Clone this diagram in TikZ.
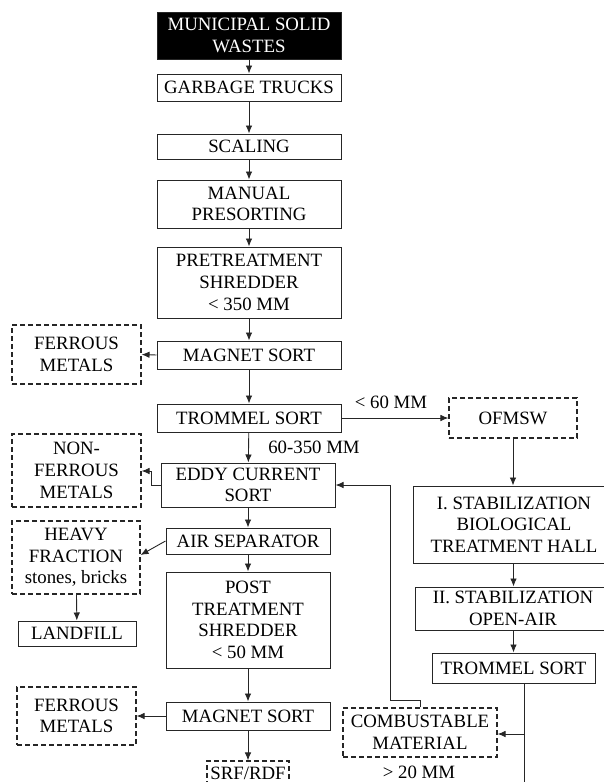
\documentclass[tikz,border=0pt]{standalone}
\usepackage{fontspec}
\setmainfont{Liberation Serif}
\usetikzlibrary{arrows.meta}
\tikzset{
  box/.style={draw=black!85, line width=1pt, inner sep=0pt, align=center,
    font=\fontsize{18.8}{21.7}\selectfont, text=black},
  dbox/.style={box, dash pattern=on 5pt off 3pt, line width=1.1pt},
  lbl/.style={inner sep=0pt, font=\fontsize{18.8}{21.7}\selectfont},
  arr/.style={draw=black!85, line width=0.9pt, -{Latex[length=8pt,width=6.5pt]}},
}
\begin{document}
\begin{tikzpicture}[x=1pt,y=-1pt]
\useasboundingbox (0,0) rectangle (604,782);
\clip (0,0) rectangle (604,782);
\fill[white] (0,0) rectangle (604,782);
% main column
\node[box, fill=black, text=white, minimum width=184, minimum height=47] (msw) at (249,35.5) {MUNICIPAL SOLID\\WASTES};
\node[box, minimum width=184, minimum height=27] (garb) at (249,87.5) {GARBAGE TRUCKS};
\node[box, minimum width=184, minimum height=25] (scal) at (249,146.5) {SCALING};
\node[box, minimum width=184, minimum height=48] (man) at (249,204) {MANUAL\\PRESORTING};
\node[box, minimum width=184, minimum height=71] (pre) at (249,282.5) {PRETREATMENT\\SHREDDER\\< 350 MM};
\node[box, minimum width=184, minimum height=28] (mag) at (249,355) {MAGNET SORT};
\node[box, minimum width=184, minimum height=28] (trom) at (249,418) {TROMMEL SORT};
\node[box, minimum width=174, minimum height=44] (eddy) at (248,485) {EDDY CURRENT\\SORT};
\node[box, minimum width=164, minimum height=26] (air) at (248,541) {AIR SEPARATOR};
\node[box, minimum width=164, minimum height=96] (post) at (248,620) {POST\\TREATMENT\\SHREDDER\\< 50 MM};
\node[box, minimum width=164, minimum height=28] (mag2) at (248,716) {MAGNET SORT};
\node[dbox, minimum width=82, minimum height=24] (srf) at (248,773) {SRF/RDF};
% left column
\node[dbox, minimum width=129, minimum height=59] (fer1) at (76.5,354.5) {FERROUS\\METALS};
\node[dbox, minimum width=129, minimum height=73] (nfer) at (76.5,470.5) {NON-\\FERROUS\\METALS};
\node[dbox, minimum width=128, minimum height=73] (heavy) at (76,557.5) {HEAVY\\FRACTION\\stones, bricks};
\node[box, minimum width=118, minimum height=25] (land) at (77,633.5) {LANDFILL};
\node[dbox, minimum width=119, minimum height=58] (fer2) at (76.5,716) {FERROUS\\METALS};
% right column
\node[dbox, minimum width=128, minimum height=40] (ofm) at (513,418) {OFMSW};
\node[box, minimum width=202, minimum height=77] (st1) at (514,524.5) {I. STABILIZATION\\BIOLOGICAL\\TREATMENT HALL};
\node[box, minimum width=196, minimum height=43] (st2) at (513,608.5) {II. STABILIZATION\\OPEN-AIR};
\node[box, minimum width=163, minimum height=30] (trom2) at (513.5,668) {TROMMEL SORT};
\node[dbox, minimum width=154, minimum height=49] (comb) at (420,732.5) {COMBUSTABLE\\MATERIAL};
% labels
\node[lbl] (l60) at (391,402) {< 60 MM};
\node[lbl] (l350) at (314,447) {60-350 MM};
\node[lbl] (l20) at (419,772) {> 20 MM};
% coordinates
\coordinate (nf1) at (151,471);
\coordinate (c1) at (390,700);
\coordinate (br) at (524,734);
\coordinate (bot) at (524,790);
% connectors
\draw[arr] (msw) -- (garb);
\draw[arr] (garb) -- (scal);
\draw[arr] (scal) -- (man);
\draw[arr] (man) -- (pre);
\draw[arr] (pre) -- (mag);
\draw[arr] (mag) -- (trom);
\draw[arr] (trom) -- (eddy);
\draw[arr] (eddy) -- (air);
\draw[arr] (air) -- (post);
\draw[arr] (post) -- (mag2);
\draw[arr] (mag2) -- (srf);
\draw[arr] (mag.west) -- (fer1.east);
\draw[arr] (trom.east) -- (ofm.west);
\draw[arr] (eddy.west) -| (nf1) -- (nfer.east |- nf1);
\draw[arr] (air.west) -- ([yshift=2.5pt]heavy.east);
\draw[arr] (heavy) -- (land);
\draw[arr] (mag2.west) -- (fer2.east);
\draw[arr] (ofm) -- (st1.north -| ofm);
\draw[arr] (st1.south -| trom2) -- (st2.north -| trom2);
\draw[arr] (st2.south -| trom2) -- (trom2);
\draw[arr] (trom2.south -| bot) -- (bot);
\draw[arr] (br) -- (comb.east |- br);
\draw[arr] (comb.north) |- (c1) |- (eddy.east);
\end{tikzpicture}
\end{document}
